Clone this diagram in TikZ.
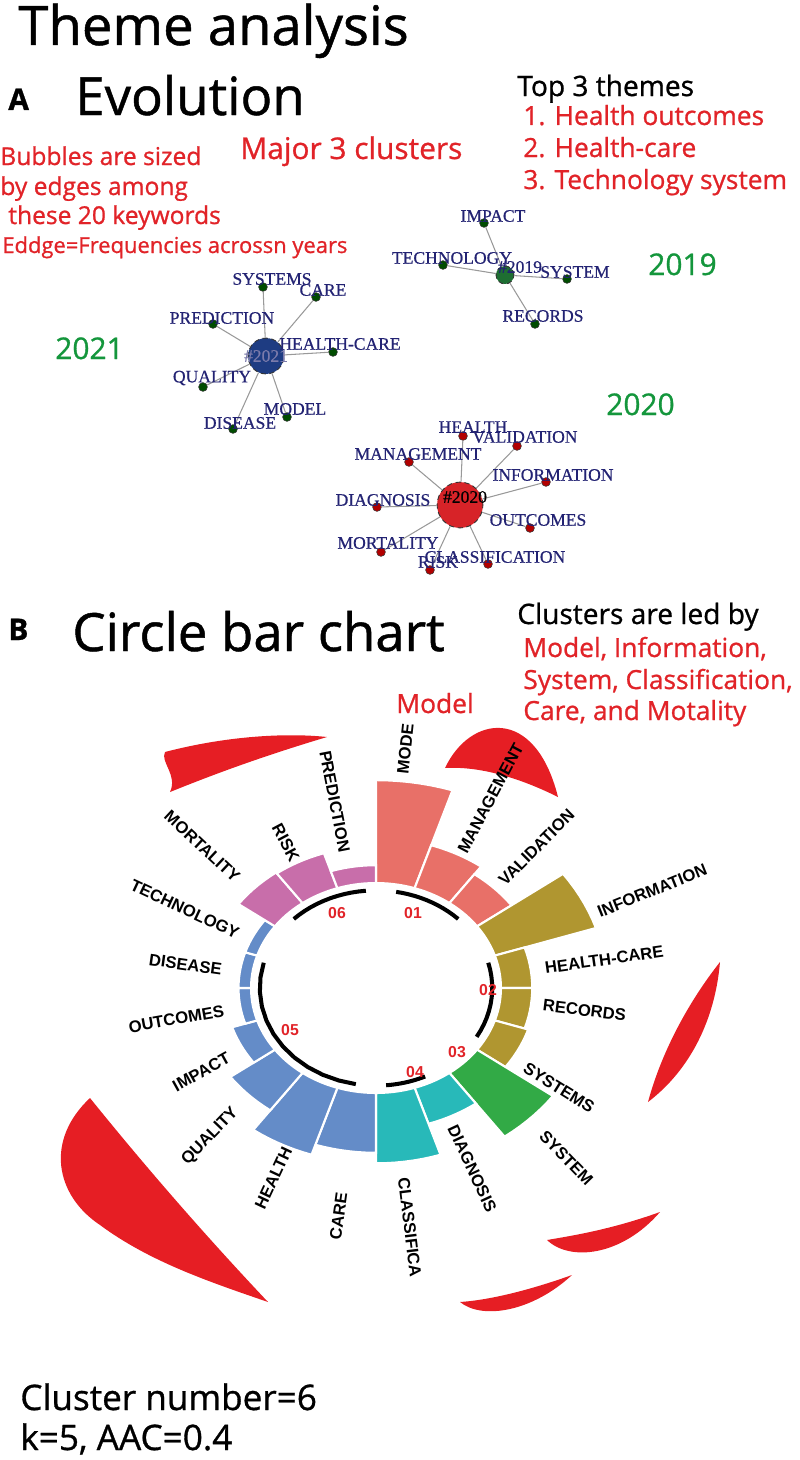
\documentclass[tikz,border=0pt]{standalone}
\usepackage{fontspec}
\setmainfont{Open Sans}[FakeBold=0.9]
\newfontfamily\barfont{Liberation Sans}
\newfontfamily\netfont{Liberation Serif}[FakeBold=0.6]
\usetikzlibrary{positioning,calc}
\definecolor{blob-red}{RGB}{230,30,36}
\definecolor{txt-red}{RGB}{225,35,40}
\definecolor{txt-green}{RGB}{20,150,60}
\definecolor{net-navy}{RGB}{35,35,115}
\definecolor{c-pink}{RGB}{232,112,104}
\definecolor{c-gold}{RGB}{176,150,48}
\definecolor{c-green}{RGB}{50,170,70}
\definecolor{c-teal}{RGB}{40,185,185}
\definecolor{c-blue}{RGB}{100,140,200}
\definecolor{c-purple}{RGB}{200,110,170}
\tikzset{
  txt/.style={anchor=base west,inner sep=0pt},
  redtxt/.style={txt,text=txt-red,font=\fontsize{15}{15}\selectfont},
  yeartxt/.style={txt,text=txt-green,font=\fontsize{17}{17}\selectfont},
  netlab/.style={inner sep=0pt,text=net-navy,font=\netfont\fontsize{10}{10}\selectfont},
  leaf/.style={circle,inner sep=0pt,minimum size=5pt,draw=black!80,line width=0.3pt},
  hub/.style={circle,inner sep=0pt,draw=black!80,line width=0.5pt,densely dashed},
  edge/.style={draw=black!40,line width=0.6pt},
  cbl/.style={inner sep=1pt,font=\barfont\bfseries\fontsize{9.5}{9.5}\selectfont},
  clusarc/.style={line width=2.3pt,black},
  clusnum/.style={text=txt-red,font=\barfont\bfseries\fontsize{9}{9}\selectfont}
}
\begin{document}
\begin{tikzpicture}[x=0.02cm,y=-0.02cm]
\useasboundingbox (0,0) rectangle (800,1460);
%headings
\node[txt,font=\fontsize{31}{31}\selectfont] (title) at (18,45) {Theme analysis};
\node[txt,font=\bfseries\fontsize{17}{17}\selectfont] (partA) at (8,110) {A};
\node[txt,font=\fontsize{30}{30}\selectfont] (evol) at (75,115) {Evolution};
\node[txt,font=\fontsize{16}{16}\selectfont] (top3) at (517,96) {Top 3 themes};
\node[redtxt] (th1) at (523,125) {1. Health outcomes};
\node[redtxt] (th2) at (523,157) {2. Health-care};
\node[redtxt] (th3) at (523,189) {3. Technology system};
\node[redtxt,font=\fontsize{17}{17}\selectfont] (major) at (240,159) {Major 3 clusters};
\node[redtxt,font=\fontsize{14}{14}\selectfont] (bub1) at (0,165) {Bubbles are sized};
\node[redtxt,font=\fontsize{14}{14}\selectfont] (bub2) at (0,195) {by edges among};
\node[redtxt,font=\fontsize{14}{14}\selectfont] (bub3) at (8,224) {these 20 keywords};
\node[redtxt,font=\fontsize{12.5}{12.5}\selectfont] (bub4) at (2,253) {Eddge=Frequencies acrossn years};
\node[yeartxt] (y2019) at (648,275) {2019};
\node[yeartxt] (y2021) at (55,359) {2021};
\node[yeartxt] (y2020) at (606,415) {2020};

%network 2021
\node[hub,fill={rgb,255:red,30;green,60;blue,130},minimum size=36pt*0.567] (h2021) at (266,356) {};
\node[netlab,text=net-navy!60] at (h2021) {\#2021};
\foreach \nm/\dx/\dy/\lx/\ly in {SYSTEMS/263/287/272/279, CARE/316/297/323/290, PREDICTION/213/324/222/318, HEALTH-CARE/333/352/340/344, QUALITY/203/387/212/378, MODEL/287/417/295/409, DISEASE/233/429/240/423}{
  \node[leaf,fill=black!70!green] (d\nm) at (\dx,\dy) {};
  \draw[edge] (h2021) -- (d\nm);
  \node[netlab] (l\nm) at (\lx,\ly) {\nm};
}
%network 2019
\node[hub,fill={rgb,255:red,30;green,110;blue,50},minimum size=18pt*0.567] (h2019) at (505,275) {};
\foreach \nm/\dx/\dy/\lx/\ly in {IMPACT/484/223/493/216, TECHNOLOGY/443/265/452/258, SYSTEM/567/279/575/272, RECORDS/535/324/543/316}{
  \node[leaf,fill=black!70!green] (d\nm) at (\dx,\dy) {};
  \draw[edge] (h2019) -- (d\nm);
  \node[netlab] (l\nm) at (\lx,\ly) {\nm};
}
\node[netlab] at (520,267) {\#2019};
%network 2020
\node[hub,fill={rgb,255:red,215;green,35;blue,40},minimum size=46pt*0.567] (h2020) at (460,505) {};
\foreach \nm/\dx/\dy/\lx/\ly in {HEALTH/463/436/473/427, VALIDATION/517/446/525/437, MANAGEMENT/409/462/418/454, INFORMATION/546/482/553/475, DIAGNOSIS/377/507/383/500, OUTCOMES/530/528/538/520, MORTALITY/381/552/388/543, RISK/430/570/438/562, CLASSIFICATION/488/564/495/557}{
  \node[leaf,fill=red!70!black] (e\nm) at (\dx,\dy) {};
  \draw[edge] (h2020) -- (e\nm);
  \node[netlab] (m\nm) at (\lx,\ly) {\nm};
}
\node[netlab,text=black] at (465,497) {\#2020};

%part B headings
\node[txt,font=\bfseries\fontsize{17}{17}\selectfont] (partB) at (8,640) {B};
\node[txt,font=\fontsize{30}{30}\selectfont] (cbc) at (72,651) {Circle bar chart};
\node[txt,font=\fontsize{16}{16}\selectfont] (led) at (517,624) {Clusters are led by};
\node[redtxt] (led1) at (523,657) {Model, Information,};
\node[redtxt] (led2) at (523,689) {System, Classification,};
\node[redtxt] (led3) at (523,720) {Care, and Motality};
\node[redtxt] (modl) at (396,713) {Model};

%red blobs
\fill[blob-red] (327,737) .. controls (250,760) and (200,780) .. (170,792) .. controls (178,775) and (160,762) .. (165,752) .. controls (230,735) and (290,733) .. cycle;
\fill[blob-red] (445,768) .. controls (470,715) and (535,705) .. (558,797) .. controls (520,778) and (480,766) .. cycle;
\fill[blob-red] (720,962) .. controls (715,1020) and (690,1070) .. (648,1102) .. controls (662,1050) and (690,1000) .. cycle;
\fill[blob-red] (90,1098) .. controls (45,1140) and (55,1195) .. (100,1225) .. controls (150,1262) and (210,1282) .. (268,1302) .. controls (200,1230) and (140,1160) .. cycle;
\fill[blob-red] (660,1212) .. controls (610,1230) and (570,1236) .. (547,1240) .. controls (570,1262) and (622,1256) .. cycle;
\fill[blob-red] (572,1275) .. controls (530,1290) and (490,1300) .. (460,1302) .. controls (482,1320) and (532,1312) .. cycle;

%circle bar chart
\begin{scope}[shift={(376,988)},x=2.5cm,y=2.1cm]
\foreach \i/\h/\c in {0/1.98/c-pink,1/1.43/c-pink,2/1.34/c-pink,3/1.85/c-gold,4/1.25/c-gold,5/1.25/c-gold,6/1.28/c-gold,7/1.75/c-green,8/1.36/c-teal,9/1.67/c-teal,10/1.57/c-blue,11/1.67/c-blue,12/1.44/c-blue,13/1.21/c-blue,14/1.1/c-blue,15/1.1/c-blue,16/1.1/c-blue,17/1.36/c-purple,18/1.35/c-purple,19/1.17/c-purple}{
  \pgfmathsetmacro\aa{90-18*\i}
  \pgfmathsetmacro\ab{72-18*\i}
  \fill[\c,draw=white,line width=1.2pt] plot[domain=\aa:\ab,samples=8] (\x:1) -- plot[domain=\ab:\aa,samples=8] (\x:\h) -- cycle;
}
\foreach \a/\b in {80/45, 15/-30, -65/-85, -100/-195, 95/135}
  \draw[clusarc] plot[domain=\a:\b,samples=12] (\x:0.93);
\foreach \a/\r/\t [count=\k] in {84/2.03/MODE, 62/1.45/MANAGEMENT, 45/1.4/VALIDATION, 22/1.9/INFORMATION, 8/1.35/HEALTH-CARE, -7/1.33/RECORDS, -32/1.39/SYSTEMS, -46/1.9/SYSTEM, -65/1.43/DIAGNOSIS, -83/1.8/CLASSIFICA}
  \node[cbl,anchor=west,rotate=\a] (rl\k) at (\a:\r) {\t};
\foreach \a/\r/\t [count=\k] in {-98/1.95/CARE, -115/1.66/HEALTH, -134/1.6/QUALITY, -151/1.33/IMPACT, -170/1.22/OUTCOMES, 172/1.23/DISEASE, 155/1.2/TECHNOLOGY, 137/1.5/MORTALITY, 118/1.36/RISK, 101/1.3/PREDICTION}
  \node[cbl,anchor=east,rotate=\a+180] (ll\k) at (\a:\r) {\t};
\end{scope}
\node[clusnum] (n06) at (337,913) {06};
\node[clusnum] (n01) at (413,913) {01};
\node[clusnum] (n02) at (488,990) {02};
\node[clusnum] (n03) at (457,1052) {03};
\node[clusnum] (n04) at (415,1072) {04};
\node[clusnum] (n05) at (290,1030) {05};

%footer
\node[txt,font=\fontsize{20}{20}\selectfont] (cn) at (20,1410) {Cluster number=6};
\node[txt,font=\fontsize{20}{20}\selectfont] (kaac) at (20,1450) {k=5, AAC=0.4};
\end{tikzpicture}
\end{document}
